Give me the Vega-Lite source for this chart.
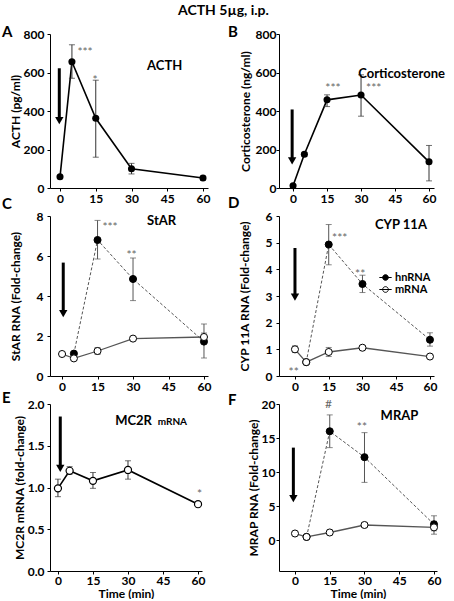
{
 "$schema": "https://vega.github.io/schema/vega-lite/v6.json",
 "padding": {"left": 2, "top": 4, "right": 2, "bottom": 0},
 "title": {"text": "ACTH 5µg, i.p.", "fontSize": 14, "font": "Lato", "fontWeight": "bold", "anchor": "middle", "offset": 6.5, "color": "black"},
 "datasets": {
  "acth": [
   {"t": 0, "v": 58, "lo": 50, "hi": 66},
   {"t": 5, "v": 656, "lo": 570, "hi": 744},
   {"t": 15, "v": 362, "lo": 160, "hi": 560},
   {"t": 30, "v": 100, "lo": 73, "hi": 128},
   {"t": 60, "v": 52, "lo": 42, "hi": 62}
  ],
  "cort": [
   {"t": 0, "v": 12, "lo": 6, "hi": 18},
   {"t": 5, "v": 175, "lo": 165, "hi": 185},
   {"t": 15, "v": 458, "lo": 423, "hi": 484},
   {"t": 30, "v": 483, "lo": 373, "hi": 588},
   {"t": 60, "v": 136, "lo": 37, "hi": 221}
  ],
  "star": [
   {"t": 5, "v": 1.12, "lo": 1.05, "hi": 1.2, "type": "hnRNA"},
   {"t": 15, "v": 6.8, "lo": 5.85, "hi": 7.78, "type": "hnRNA"},
   {"t": 30, "v": 4.85, "lo": 3.77, "hi": 5.9, "type": "hnRNA"},
   {"t": 60, "v": 1.72, "lo": 0.9, "hi": 2.6, "type": "hnRNA"},
   {"t": 0, "v": 1.1, "lo": 1.0, "hi": 1.2, "type": "mRNA"},
   {"t": 5, "v": 0.88, "lo": 0.8, "hi": 0.95, "type": "mRNA"},
   {"t": 15, "v": 1.25, "lo": 1.08, "hi": 1.42, "type": "mRNA"},
   {"t": 30, "v": 1.87, "lo": 1.8, "hi": 1.94, "type": "mRNA"},
   {"t": 60, "v": 1.95, "lo": 1.75, "hi": 2.15, "type": "mRNA"}
  ],
  "cyp": [
   {"t": 5, "v": 0.52, "lo": 0.49, "hi": 0.55, "type": "hnRNA"},
   {"t": 15, "v": 4.93, "lo": 4.17, "hi": 5.68, "type": "hnRNA"},
   {"t": 30, "v": 3.45, "lo": 3.13, "hi": 3.78, "type": "hnRNA"},
   {"t": 60, "v": 1.36, "lo": 1.12, "hi": 1.62, "type": "hnRNA"},
   {"t": 0, "v": 1.0, "lo": 0.88, "hi": 1.13, "type": "mRNA"},
   {"t": 5, "v": 0.52, "lo": 0.48, "hi": 0.56, "type": "mRNA"},
   {"t": 15, "v": 0.9, "lo": 0.73, "hi": 1.07, "type": "mRNA"},
   {"t": 30, "v": 1.06, "lo": 1.0, "hi": 1.12, "type": "mRNA"},
   {"t": 60, "v": 0.73, "lo": 0.67, "hi": 0.79, "type": "mRNA"}
  ],
  "mc2r": [
   {"t": 0, "v": 0.99, "lo": 0.89, "hi": 1.1},
   {"t": 5, "v": 1.2, "lo": 1.16, "hi": 1.25},
   {"t": 15, "v": 1.08, "lo": 0.99, "hi": 1.18},
   {"t": 30, "v": 1.21, "lo": 1.1, "hi": 1.32},
   {"t": 60, "v": 0.8, "lo": 0.77, "hi": 0.83}
  ],
  "mrap": [
   {"t": 5, "v": 0.5, "lo": 0.4, "hi": 0.6, "type": "hnRNA"},
   {"t": 15, "v": 16.0, "lo": 13.6, "hi": 18.4, "type": "hnRNA"},
   {"t": 30, "v": 12.2, "lo": 8.5, "hi": 15.8, "type": "hnRNA"},
   {"t": 60, "v": 2.35, "lo": 1.4, "hi": 3.6, "type": "hnRNA"},
   {"t": 0, "v": 1.0, "lo": 0.8, "hi": 1.2, "type": "mRNA"},
   {"t": 5, "v": 0.5, "lo": 0.35, "hi": 0.65, "type": "mRNA"},
   {"t": 15, "v": 1.15, "lo": 0.8, "hi": 1.5, "type": "mRNA"},
   {"t": 30, "v": 2.25, "lo": 1.9, "hi": 2.6, "type": "mRNA"},
   {"t": 60, "v": 1.9, "lo": 0.9, "hi": 2.8, "type": "mRNA"}
  ],
  "arrows": [
   {"panel": "A", "t": -0.3, "top": 622, "tip": 350},
   {"panel": "B", "t": -0.4, "top": 408, "tip": 141},
   {"panel": "C", "t": 0.5, "top": 5.67, "tip": 3.12},
   {"panel": "D", "t": 0, "top": 4.8, "tip": 2.96},
   {"panel": "E", "t": 1, "top": 1.85, "tip": 1.23},
   {"panel": "F", "t": -0.7, "top": 13.6, "tip": 6.1}
  ],
  "notes": [
   {"panel": "A", "t": 10.5, "v": 722, "text": "***", "kind": "star"},
   {"panel": "A", "t": 14.7, "v": 575, "text": "*", "kind": "star"},
   {"panel": "A", "t": 43.9, "v": 635, "text": "ACTH", "kind": "label"},
   {"panel": "B", "t": 17.6, "v": 534, "text": "***", "kind": "star"},
   {"panel": "B", "t": 35.6, "v": 534, "text": "***", "kind": "star"},
   {"panel": "B", "t": 47.9, "v": 592, "text": "Corticosterone", "kind": "label"},
   {"panel": "C", "t": 20.3, "v": 7.6, "text": "***", "kind": "star"},
   {"panel": "C", "t": 29.4, "v": 6.18, "text": "**", "kind": "star"},
   {"panel": "C", "t": 42.1, "v": 7.77, "text": "StAR", "kind": "label"},
   {"panel": "D", "t": 19.9, "v": 5.29, "text": "***", "kind": "star"},
   {"panel": "D", "t": 29.0, "v": 3.95, "text": "**", "kind": "star"},
   {"panel": "D", "t": -0.6, "v": 0.26, "text": "**", "kind": "star"},
   {"panel": "D", "t": 47.1, "v": 5.67, "text": "CYP 11A", "kind": "label"},
   {"panel": "E", "t": 60.6, "v": 0.96, "text": "*", "kind": "star"},
   {"panel": "E", "t": 32.4, "v": 1.8, "text": "MC2R", "kind": "label"},
   {"panel": "E", "t": 49.0, "v": 1.8, "text": "mRNA", "kind": "small"},
   {"panel": "F", "t": 14.5, "v": 20.5, "text": "#", "kind": "star"},
   {"panel": "F", "t": 28.9, "v": 17.1, "text": "**", "kind": "star"},
   {"panel": "F", "t": 45.1, "v": 18.3, "text": "MRAP", "kind": "label"}
  ]
 },
 "columns": 2,
 "spacing": {"row": 28, "column": 71},
 "bounds": "flush",
 "align": "each",
 "resolve": {"scale": {"fill": "independent"}, "legend": {"fill": "independent"}},
 "concat": [
  {
   "title": {"text": "A", "anchor": "start", "frame": "group", "dx": -48, "dy": 11.5, "offset": 0, "fontSize": 15, "fontWeight": "bold", "font": "Lato", "color": "black"},
   "width": 158, "height": 154,
   "encoding": {"x": {"field": "t", "type": "quantitative", "scale": {"domain": [-4.2, 62.1], "nice": false, "zero": false}, "axis": {"values": [0, 15, 30, 45, 60], "title": null}}},
   "layer": [
    {"data": {"name": "acth"}, "mark": {"type": "line", "color": "black", "strokeWidth": 1.6}, "encoding": {"y": {"field": "v", "type": "quantitative", "title": "ACTH (pg/ml)", "scale": {"domain": [0, 800], "nice": false}, "axis": {"values": [0, 200, 400, 600, 800], "labelPadding": 3, "titlePadding": 1}}}},
    {"data": {"name": "acth"}, "mark": {"type": "rule", "color": "#333", "strokeWidth": 1}, "encoding": {"y": {"field": "lo", "type": "quantitative", "title": "ACTH (pg/ml)", "axis": {"values": [0, 200, 400, 600, 800]}}, "y2": {"field": "hi"}}},
    {"data": {"name": "acth"}, "transform": [{"fold": ["lo", "hi"], "as": ["end", "ev"]}], "mark": {"type": "tick", "orient": "horizontal", "color": "#333", "thickness": 1, "size": 6}, "encoding": {"y": {"field": "ev", "type": "quantitative", "title": "ACTH (pg/ml)", "axis": {"values": [0, 200, 400, 600, 800]}}}},
    {"data": {"name": "acth"}, "mark": {"type": "point", "filled": true, "color": "black", "size": 50, "opacity": 1}, "encoding": {"y": {"field": "v", "type": "quantitative", "title": "ACTH (pg/ml)", "axis": {"values": [0, 200, 400, 600, 800]}}}},
    {"data": {"name": "arrows"}, "transform": [{"filter": "datum.panel == 'A'"}], "mark": {"type": "rule", "color": "black", "strokeWidth": 3}, "encoding": {"y": {"field": "top", "type": "quantitative", "title": "ACTH (pg/ml)", "axis": {"values": [0, 200, 400, 600, 800]}}, "y2": {"field": "tip"}}},
    {"data": {"name": "arrows"}, "transform": [{"filter": "datum.panel == 'A'"}], "mark": {"type": "point", "shape": "triangle-down", "filled": true, "color": "black", "size": 70, "opacity": 1}, "encoding": {"y": {"field": "tip", "type": "quantitative", "title": "ACTH (pg/ml)", "axis": {"values": [0, 200, 400, 600, 800]}}}},
    {"data": {"name": "notes"}, "transform": [{"filter": "datum.panel == 'A' && datum.kind == 'star'"}], "mark": {"type": "text", "color": "#666", "fontSize": 12, "dy": 3}, "encoding": {"y": {"field": "v", "type": "quantitative", "title": "ACTH (pg/ml)", "axis": {"values": [0, 200, 400, 600, 800]}}, "text": {"field": "text"}}},
    {"data": {"name": "notes"}, "transform": [{"filter": "datum.panel == 'A' && datum.kind == 'label'"}], "mark": {"type": "text", "color": "black", "fontSize": 13, "fontWeight": "bold"}, "encoding": {"y": {"field": "v", "type": "quantitative", "title": "ACTH (pg/ml)", "axis": {"values": [0, 200, 400, 600, 800]}}, "text": {"field": "text"}}}
   ]
  },
  {
   "title": {"text": "B", "anchor": "start", "frame": "group", "dx": -51, "dy": 11.5, "offset": 0, "fontSize": 15, "fontWeight": "bold", "font": "Lato", "color": "black"},
   "width": 155, "height": 154,
   "encoding": {"x": {"field": "t", "type": "quantitative", "scale": {"domain": [-6.2, 62.2], "nice": false, "zero": false}, "axis": {"values": [0, 15, 30, 45, 60], "title": null}}},
   "layer": [
    {"data": {"name": "cort"}, "mark": {"type": "line", "color": "black", "strokeWidth": 1.6}, "encoding": {"y": {"field": "v", "type": "quantitative", "title": "Corticosterone (ng/ml)", "scale": {"domain": [0, 800], "nice": false}, "axis": {"values": [0, 200, 400, 600, 800], "labelPadding": 0, "titlePadding": 3}}}},
    {"data": {"name": "cort"}, "mark": {"type": "rule", "color": "#333", "strokeWidth": 1}, "encoding": {"y": {"field": "lo", "type": "quantitative", "title": "Corticosterone (ng/ml)", "axis": {"values": [0, 200, 400, 600, 800]}}, "y2": {"field": "hi"}}},
    {"data": {"name": "cort"}, "transform": [{"fold": ["lo", "hi"], "as": ["end", "ev"]}], "mark": {"type": "tick", "orient": "horizontal", "color": "#333", "thickness": 1, "size": 6}, "encoding": {"y": {"field": "ev", "type": "quantitative", "title": "Corticosterone (ng/ml)", "axis": {"values": [0, 200, 400, 600, 800]}}}},
    {"data": {"name": "cort"}, "mark": {"type": "point", "filled": true, "color": "black", "size": 50, "opacity": 1}, "encoding": {"y": {"field": "v", "type": "quantitative", "title": "Corticosterone (ng/ml)", "axis": {"values": [0, 200, 400, 600, 800]}}}},
    {"data": {"name": "arrows"}, "transform": [{"filter": "datum.panel == 'B'"}], "mark": {"type": "rule", "color": "black", "strokeWidth": 3}, "encoding": {"y": {"field": "top", "type": "quantitative", "title": "Corticosterone (ng/ml)", "axis": {"values": [0, 200, 400, 600, 800]}}, "y2": {"field": "tip"}}},
    {"data": {"name": "arrows"}, "transform": [{"filter": "datum.panel == 'B'"}], "mark": {"type": "point", "shape": "triangle-down", "filled": true, "color": "black", "size": 70, "opacity": 1}, "encoding": {"y": {"field": "tip", "type": "quantitative", "title": "Corticosterone (ng/ml)", "axis": {"values": [0, 200, 400, 600, 800]}}}},
    {"data": {"name": "notes"}, "transform": [{"filter": "datum.panel == 'B' && datum.kind == 'star'"}], "mark": {"type": "text", "color": "#666", "fontSize": 12, "dy": 3}, "encoding": {"y": {"field": "v", "type": "quantitative", "title": "Corticosterone (ng/ml)", "axis": {"values": [0, 200, 400, 600, 800]}}, "text": {"field": "text"}}},
    {"data": {"name": "notes"}, "transform": [{"filter": "datum.panel == 'B' && datum.kind == 'label'"}], "mark": {"type": "text", "color": "black", "fontSize": 13, "fontWeight": "bold"}, "encoding": {"y": {"field": "v", "type": "quantitative", "title": "Corticosterone (ng/ml)", "axis": {"values": [0, 200, 400, 600, 800]}}, "text": {"field": "text"}}}
   ]
  },
  {
   "title": {"text": "C", "anchor": "start", "frame": "group", "dx": -48, "dy": 2, "offset": 0, "fontSize": 15, "fontWeight": "bold", "font": "Lato", "color": "black"},
   "width": 158, "height": 160,
   "encoding": {"x": {"field": "t", "type": "quantitative", "scale": {"domain": [-5.1, 61.7], "nice": false, "zero": false}, "axis": {"values": [0, 15, 30, 45, 60], "title": null}}},
   "layer": [
    {"data": {"name": "star"}, "transform": [{"filter": "datum.type == 'mRNA'"}], "mark": {"type": "line", "color": "#555", "strokeWidth": 1.3}, "encoding": {"y": {"field": "v", "type": "quantitative", "title": "StAR RNA (Fold-change)", "scale": {"domain": [0, 8], "nice": false}, "axis": {"values": [0, 2, 4, 6, 8], "labelPadding": 4, "titlePadding": 14}}}},
    {"data": {"name": "star"}, "transform": [{"filter": "datum.type == 'hnRNA'"}], "mark": {"type": "line", "color": "#555", "strokeWidth": 1, "strokeDash": [3, 2]}, "encoding": {"y": {"field": "v", "type": "quantitative", "title": "StAR RNA (Fold-change)", "axis": {"values": [0, 2, 4, 6, 8]}}}},
    {"data": {"name": "star"}, "mark": {"type": "rule", "color": "#555", "strokeWidth": 1}, "encoding": {"y": {"field": "lo", "type": "quantitative", "title": "StAR RNA (Fold-change)", "axis": {"values": [0, 2, 4, 6, 8]}}, "y2": {"field": "hi"}}},
    {"data": {"name": "star"}, "transform": [{"fold": ["lo", "hi"], "as": ["end", "ev"]}], "mark": {"type": "tick", "orient": "horizontal", "color": "#555", "thickness": 1, "size": 6}, "encoding": {"y": {"field": "ev", "type": "quantitative", "title": "StAR RNA (Fold-change)", "axis": {"values": [0, 2, 4, 6, 8]}}}},
    {"data": {"name": "star"}, "mark": {"type": "point", "filled": true, "stroke": "black", "strokeWidth": 1, "size": 50, "opacity": 1}, "encoding": {"y": {"field": "v", "type": "quantitative", "title": "StAR RNA (Fold-change)", "axis": {"values": [0, 2, 4, 6, 8]}}, "fill": {"field": "type", "type": "nominal", "scale": {"domain": ["hnRNA", "mRNA"], "range": ["black", "white"]}, "legend": null}}},
    {"data": {"name": "arrows"}, "transform": [{"filter": "datum.panel == 'C'"}], "mark": {"type": "rule", "color": "black", "strokeWidth": 3}, "encoding": {"y": {"field": "top", "type": "quantitative", "title": "StAR RNA (Fold-change)", "axis": {"values": [0, 2, 4, 6, 8]}}, "y2": {"field": "tip"}}},
    {"data": {"name": "arrows"}, "transform": [{"filter": "datum.panel == 'C'"}], "mark": {"type": "point", "shape": "triangle-down", "filled": true, "color": "black", "size": 70, "opacity": 1}, "encoding": {"y": {"field": "tip", "type": "quantitative", "title": "StAR RNA (Fold-change)", "axis": {"values": [0, 2, 4, 6, 8]}}}},
    {"data": {"name": "notes"}, "transform": [{"filter": "datum.panel == 'C' && datum.kind == 'star'"}], "mark": {"type": "text", "color": "#666", "fontSize": 12, "dy": 3}, "encoding": {"y": {"field": "v", "type": "quantitative", "title": "StAR RNA (Fold-change)", "axis": {"values": [0, 2, 4, 6, 8]}}, "text": {"field": "text"}}},
    {"data": {"name": "notes"}, "transform": [{"filter": "datum.panel == 'C' && datum.kind == 'label'"}], "mark": {"type": "text", "color": "black", "fontSize": 13, "fontWeight": "bold"}, "encoding": {"y": {"field": "v", "type": "quantitative", "title": "StAR RNA (Fold-change)", "axis": {"values": [0, 2, 4, 6, 8]}}, "text": {"field": "text"}}}
   ]
  },
  {
   "title": {"text": "D", "anchor": "start", "frame": "group", "dx": -51, "dy": 1, "offset": 0, "fontSize": 15, "fontWeight": "bold", "font": "Lato", "color": "black"},
   "width": 155, "height": 160,
   "encoding": {"x": {"field": "t", "type": "quantitative", "scale": {"domain": [-7.1, 61.8], "nice": false, "zero": false}, "axis": {"values": [0, 15, 30, 45, 60], "title": null}}},
   "layer": [
    {"data": {"name": "cyp"}, "transform": [{"filter": "datum.type == 'mRNA'"}], "mark": {"type": "line", "color": "#555", "strokeWidth": 1.3}, "encoding": {"y": {"field": "v", "type": "quantitative", "title": "CYP 11A RNA (Fold-change)", "scale": {"domain": [0, 6], "nice": false}, "axis": {"values": [0, 1, 2, 3, 4, 5, 6], "labelPadding": 4, "titlePadding": 14}}}},
    {"data": {"name": "cyp"}, "transform": [{"filter": "datum.type == 'hnRNA'"}], "mark": {"type": "line", "color": "#555", "strokeWidth": 1, "strokeDash": [3, 2]}, "encoding": {"y": {"field": "v", "type": "quantitative", "title": "CYP 11A RNA (Fold-change)", "axis": {"values": [0, 1, 2, 3, 4, 5, 6]}}}},
    {"data": {"name": "cyp"}, "mark": {"type": "rule", "color": "#555", "strokeWidth": 1}, "encoding": {"y": {"field": "lo", "type": "quantitative", "title": "CYP 11A RNA (Fold-change)", "axis": {"values": [0, 1, 2, 3, 4, 5, 6]}}, "y2": {"field": "hi"}}},
    {"data": {"name": "cyp"}, "transform": [{"fold": ["lo", "hi"], "as": ["end", "ev"]}], "mark": {"type": "tick", "orient": "horizontal", "color": "#555", "thickness": 1, "size": 6}, "encoding": {"y": {"field": "ev", "type": "quantitative", "title": "CYP 11A RNA (Fold-change)", "axis": {"values": [0, 1, 2, 3, 4, 5, 6]}}}},
    {"data": {"name": "cyp"}, "mark": {"type": "point", "filled": true, "stroke": "black", "strokeWidth": 1, "size": 50, "opacity": 1}, "encoding": {"y": {"field": "v", "type": "quantitative", "title": "CYP 11A RNA (Fold-change)", "axis": {"values": [0, 1, 2, 3, 4, 5, 6]}}, "fill": {"field": "type", "type": "nominal", "scale": {"domain": ["hnRNA", "mRNA"], "range": ["black", "white"]}, "legend": {"orient": "none", "legendX": 101, "legendY": 56, "title": null, "symbolType": "M-1.3,0H1.3M0.6,0A0.6,0.6 0 1,1 -0.6,0A0.6,0.6 0 1,1 0.6,0Z", "symbolSize": 90, "symbolStrokeColor": "black", "symbolStrokeWidth": 1, "labelFont": "Lato", "labelFontSize": 11, "labelFontWeight": "bold", "labelColor": "black", "labelOffset": 4, "rowPadding": 0, "padding": 0}}}},
    {"data": {"name": "arrows"}, "transform": [{"filter": "datum.panel == 'D'"}], "mark": {"type": "rule", "color": "black", "strokeWidth": 3}, "encoding": {"y": {"field": "top", "type": "quantitative", "title": "CYP 11A RNA (Fold-change)", "axis": {"values": [0, 1, 2, 3, 4, 5, 6]}}, "y2": {"field": "tip"}}},
    {"data": {"name": "arrows"}, "transform": [{"filter": "datum.panel == 'D'"}], "mark": {"type": "point", "shape": "triangle-down", "filled": true, "color": "black", "size": 70, "opacity": 1}, "encoding": {"y": {"field": "tip", "type": "quantitative", "title": "CYP 11A RNA (Fold-change)", "axis": {"values": [0, 1, 2, 3, 4, 5, 6]}}}},
    {"data": {"name": "notes"}, "transform": [{"filter": "datum.panel == 'D' && datum.kind == 'star'"}], "mark": {"type": "text", "color": "#666", "fontSize": 12, "dy": 3}, "encoding": {"y": {"field": "v", "type": "quantitative", "title": "CYP 11A RNA (Fold-change)", "axis": {"values": [0, 1, 2, 3, 4, 5, 6]}}, "text": {"field": "text"}}},
    {"data": {"name": "notes"}, "transform": [{"filter": "datum.panel == 'D' && datum.kind == 'label'"}], "mark": {"type": "text", "color": "black", "fontSize": 13, "fontWeight": "bold"}, "encoding": {"y": {"field": "v", "type": "quantitative", "title": "CYP 11A RNA (Fold-change)", "axis": {"values": [0, 1, 2, 3, 4, 5, 6]}}, "text": {"field": "text"}}}
   ]
  },
  {
   "title": {"text": "E", "anchor": "start", "frame": "group", "dx": -48, "dy": 8, "offset": 0, "fontSize": 15, "fontWeight": "bold", "font": "Lato", "color": "black"},
   "width": 152, "height": 167,
   "encoding": {"x": {"field": "t", "type": "quantitative", "scale": {"domain": [-3.4, 61.7], "nice": false, "zero": false}, "axis": {"values": [0, 15, 30, 45, 60], "title": "Time (min)", "labelPadding": 1, "titlePadding": 2}}},
   "layer": [
    {"data": {"name": "mc2r"}, "mark": {"type": "line", "color": "black", "strokeWidth": 1.6}, "encoding": {"y": {"field": "v", "type": "quantitative", "title": "MC2R mRNA (fold-change)", "scale": {"domain": [0, 2], "nice": false}, "axis": {"values": [0, 0.5, 1, 1.5, 2], "format": ".1f", "labelPadding": 3, "titlePadding": 1}}}},
    {"data": {"name": "mc2r"}, "mark": {"type": "rule", "color": "#333", "strokeWidth": 1}, "encoding": {"y": {"field": "lo", "type": "quantitative", "title": "MC2R mRNA (fold-change)", "axis": {"values": [0, 0.5, 1, 1.5, 2], "format": ".1f"}}, "y2": {"field": "hi"}}},
    {"data": {"name": "mc2r"}, "transform": [{"fold": ["lo", "hi"], "as": ["end", "ev"]}], "mark": {"type": "tick", "orient": "horizontal", "color": "#333", "thickness": 1, "size": 6}, "encoding": {"y": {"field": "ev", "type": "quantitative", "title": "MC2R mRNA (fold-change)", "axis": {"values": [0, 0.5, 1, 1.5, 2], "format": ".1f"}}}},
    {"data": {"name": "mc2r"}, "mark": {"type": "point", "filled": true, "fill": "white", "stroke": "black", "strokeWidth": 1.2, "size": 50, "opacity": 1}, "encoding": {"y": {"field": "v", "type": "quantitative", "title": "MC2R mRNA (fold-change)", "axis": {"values": [0, 0.5, 1, 1.5, 2], "format": ".1f"}}}},
    {"data": {"name": "arrows"}, "transform": [{"filter": "datum.panel == 'E'"}], "mark": {"type": "rule", "color": "black", "strokeWidth": 3}, "encoding": {"y": {"field": "top", "type": "quantitative", "title": "MC2R mRNA (fold-change)", "axis": {"values": [0, 0.5, 1, 1.5, 2], "format": ".1f"}}, "y2": {"field": "tip"}}},
    {"data": {"name": "arrows"}, "transform": [{"filter": "datum.panel == 'E'"}], "mark": {"type": "point", "shape": "triangle-down", "filled": true, "color": "black", "size": 70, "opacity": 1}, "encoding": {"y": {"field": "tip", "type": "quantitative", "title": "MC2R mRNA (fold-change)", "axis": {"values": [0, 0.5, 1, 1.5, 2], "format": ".1f"}}}},
    {"data": {"name": "notes"}, "transform": [{"filter": "datum.panel == 'E' && datum.kind == 'star'"}], "mark": {"type": "text", "color": "#666", "fontSize": 12, "dy": 3}, "encoding": {"y": {"field": "v", "type": "quantitative", "title": "MC2R mRNA (fold-change)", "axis": {"values": [0, 0.5, 1, 1.5, 2], "format": ".1f"}}, "text": {"field": "text"}}},
    {"data": {"name": "notes"}, "transform": [{"filter": "datum.panel == 'E' && datum.kind == 'label'"}], "mark": {"type": "text", "color": "black", "fontSize": 13, "fontWeight": "bold"}, "encoding": {"y": {"field": "v", "type": "quantitative", "title": "MC2R mRNA (fold-change)", "axis": {"values": [0, 0.5, 1, 1.5, 2], "format": ".1f"}}, "text": {"field": "text"}}},
    {"data": {"name": "notes"}, "transform": [{"filter": "datum.panel == 'E' && datum.kind == 'small'"}], "mark": {"type": "text", "color": "black", "fontSize": 10, "fontWeight": "bold", "dy": 1}, "encoding": {"y": {"field": "v", "type": "quantitative", "title": "MC2R mRNA (fold-change)", "axis": {"values": [0, 0.5, 1, 1.5, 2], "format": ".1f"}}, "text": {"field": "text"}}}
   ]
  },
  {
   "title": {"text": "F", "anchor": "start", "frame": "group", "dx": -51, "dy": 10, "offset": 0, "fontSize": 15, "fontWeight": "bold", "font": "Lato", "color": "black"},
   "width": 158, "height": 167,
   "encoding": {"x": {"field": "t", "type": "quantitative", "scale": {"domain": [-6.9, 61.3], "nice": false, "zero": false}, "axis": {"values": [0, 15, 30, 45, 60], "title": "Time (min)", "labelPadding": 1, "titlePadding": 2}}},
   "layer": [
    {"data": {"name": "mrap"}, "transform": [{"filter": "datum.type == 'mRNA'"}], "mark": {"type": "line", "color": "#555", "strokeWidth": 1.3}, "encoding": {"y": {"field": "v", "type": "quantitative", "title": "MRAP RNA (Fold-change)", "scale": {"domain": [-4.5, 20], "nice": false, "zero": false}, "axis": {"values": [0, 5, 10, 15, 20], "labelPadding": 1, "titlePadding": 1}}}},
    {"data": {"name": "mrap"}, "transform": [{"filter": "datum.type == 'hnRNA'"}], "mark": {"type": "line", "color": "#555", "strokeWidth": 1, "strokeDash": [3, 2]}, "encoding": {"y": {"field": "v", "type": "quantitative", "title": "MRAP RNA (Fold-change)", "axis": {"values": [0, 5, 10, 15, 20]}}}},
    {"data": {"name": "mrap"}, "mark": {"type": "rule", "color": "#555", "strokeWidth": 1}, "encoding": {"y": {"field": "lo", "type": "quantitative", "title": "MRAP RNA (Fold-change)", "axis": {"values": [0, 5, 10, 15, 20]}}, "y2": {"field": "hi"}}},
    {"data": {"name": "mrap"}, "transform": [{"fold": ["lo", "hi"], "as": ["end", "ev"]}], "mark": {"type": "tick", "orient": "horizontal", "color": "#555", "thickness": 1, "size": 6}, "encoding": {"y": {"field": "ev", "type": "quantitative", "title": "MRAP RNA (Fold-change)", "axis": {"values": [0, 5, 10, 15, 20]}}}},
    {"data": {"name": "mrap"}, "mark": {"type": "point", "filled": true, "stroke": "black", "strokeWidth": 1, "size": 50, "opacity": 1}, "encoding": {"y": {"field": "v", "type": "quantitative", "title": "MRAP RNA (Fold-change)", "axis": {"values": [0, 5, 10, 15, 20]}}, "fill": {"field": "type", "type": "nominal", "scale": {"domain": ["hnRNA", "mRNA"], "range": ["black", "white"]}, "legend": null}}},
    {"data": {"name": "arrows"}, "transform": [{"filter": "datum.panel == 'F'"}], "mark": {"type": "rule", "color": "black", "strokeWidth": 3}, "encoding": {"y": {"field": "top", "type": "quantitative", "title": "MRAP RNA (Fold-change)", "axis": {"values": [0, 5, 10, 15, 20]}}, "y2": {"field": "tip"}}},
    {"data": {"name": "arrows"}, "transform": [{"filter": "datum.panel == 'F'"}], "mark": {"type": "point", "shape": "triangle-down", "filled": true, "color": "black", "size": 70, "opacity": 1}, "encoding": {"y": {"field": "tip", "type": "quantitative", "title": "MRAP RNA (Fold-change)", "axis": {"values": [0, 5, 10, 15, 20]}}}},
    {"data": {"name": "notes"}, "transform": [{"filter": "datum.panel == 'F' && datum.kind == 'star'"}], "mark": {"type": "text", "color": "#666", "fontSize": 12, "dy": 3}, "encoding": {"y": {"field": "v", "type": "quantitative", "title": "MRAP RNA (Fold-change)", "axis": {"values": [0, 5, 10, 15, 20]}}, "text": {"field": "text"}}},
    {"data": {"name": "notes"}, "transform": [{"filter": "datum.panel == 'F' && datum.kind == 'label'"}], "mark": {"type": "text", "color": "black", "fontSize": 13, "fontWeight": "bold"}, "encoding": {"y": {"field": "v", "type": "quantitative", "title": "MRAP RNA (Fold-change)", "axis": {"values": [0, 5, 10, 15, 20]}}, "text": {"field": "text"}}}
   ]
  }
 ],
 "config": {
  "font": "Lato",
  "view": {"stroke": null},
  "axis": {"grid": false, "domainColor": "black", "tickColor": "black", "tickSize": 3, "labelFont": "Lato", "labelFontSize": 12, "labelFontWeight": "bold", "labelColor": "black", "titleFont": "Lato", "titleFontSize": 12, "titleFontWeight": "bold", "titleColor": "black", "labelPadding": 2, "labelOverlap": false}
 }
}
